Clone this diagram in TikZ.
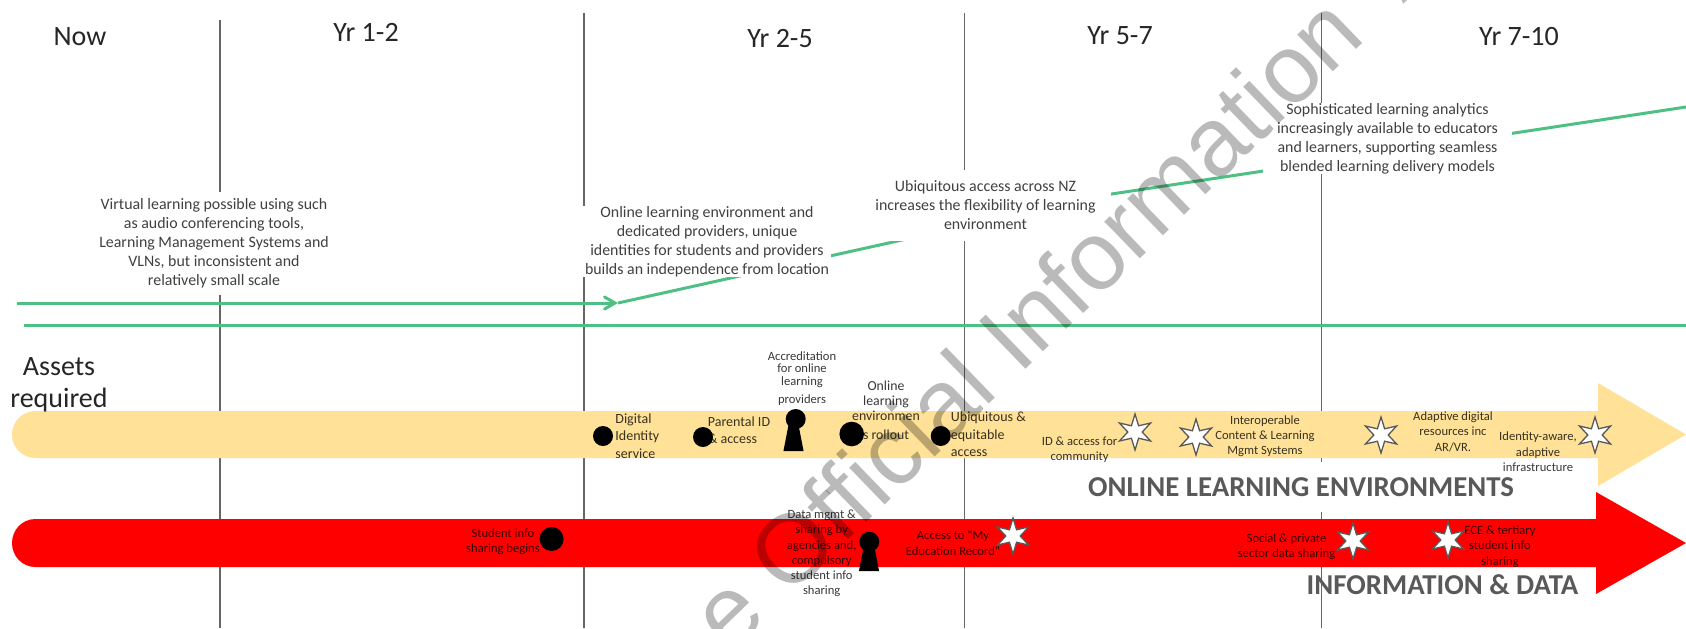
\documentclass[tikz,border=0pt]{standalone}
\usepackage{fontspec}
\setmainfont{Carlito}
\newfontfamily\stampfont{Liberation Sans}
\usetikzlibrary{shapes.geometric, arrows}
\definecolor{trackgreen}{HTML}{4FC084}
\definecolor{bandyellow}{HTML}{FFE197}
\definecolor{bandred}{HTML}{FF0000}
\tikzstyle{yearline} = [draw=black!60, line width=0.75pt]
\tikzstyle{track} = [draw=trackgreen, line width=1.5pt]
\tikzstyle{arrow} = [track,->,>=angle 60]
\tikzstyle{year} = [font=\fontsize{14}{16.5}\selectfont, align=center, inner sep=0pt, text=black!85]
\tikzstyle{note} = [font=\fontsize{7.95}{9.5}\selectfont, align=center, inner sep=0pt, fill=white, text=black!75]
\tikzstyle{tag} = [font=\fontsize{6.3}{7.6}\selectfont, align=center, inner sep=0pt, text opacity=0.78]
\tikzstyle{tagleft} = [tag, font=\fontsize{7}{8.7}\selectfont, align=left]
\tikzstyle{heading} = [font=\fontsize{14.4}{16}\selectfont\bfseries, inner sep=0pt, text=black!65]
\tikzstyle{eventdot} = [circle, fill=black, minimum size=10pt, inner sep=0pt]
\tikzstyle{keystem} = [trapezium, trapezium left angle=79, trapezium right angle=79, text width=5pt, text height=13pt, text depth=0pt, inner sep=0pt, fill=black]
\tikzstyle{futurestar} = [star, star points=6, star point ratio=2.5, minimum size=18pt, inner sep=0pt, fill=white, draw=black!65, line width=0.65pt]

\begin{document}
\begin{tikzpicture}[x=0.5pt, y=-0.5pt]
    \useasboundingbox (0,0) rectangle (1686,628);
    \clip (0,0) rectangle (1686,628);

    \draw [yearline] (220,20) -- (220,628);
    \draw [yearline] (584,13) -- (584,628);
    \draw [yearline] (964.5,13) -- (964.5,628);
    \draw [yearline] (1321.5,13) -- (1321.5,628);

    \coordinate (trackstart) at (17,303);
    \coordinate (tracktip) at (618,303);
    \coordinate (trackbend) at (1105,195);
    \coordinate (trackend) at (1686,107);
    \coordinate (baseleft) at (24,325);
    \coordinate (baseright) at (1686,325);
    \draw [arrow] (trackstart) -- (tracktip);
    \draw [track] (tracktip) -- (trackbend) -- (trackend);
    \draw [track] (baseleft) -- (baseright);

    \fill [bandyellow] (1598,411) -- (1598,383) -- (1686,434.5) -- (1598,486) -- (1598,458) -- (35.5,458) .. controls (22,458) and (12,447) .. (12,434.5) .. controls (12,422) and (22,411) .. (35.5,411) -- cycle;
    \fill [bandred] (1596,519) -- (1596,492) -- (1686,543) -- (1596,594) -- (1596,567) -- (35.5,567) .. controls (22,567) and (12,556) .. (12,543) .. controls (12,530) and (22,519) .. (35.5,519) -- cycle;

    \node [year] at (80,37) (now) {Now};
    \node [year] at (366,32) (yrone) {Yr 1-2};
    \node [year] at (780,39) (yrtwo) {Yr 2-5};
    \node [year] at (1120,36) (yrfive) {Yr 5-7};
    \node [year] at (1519,37) (yrseven) {Yr 7-10};
    \node [year, font=\fontsize{14}{16}\selectfont] at (59,385) (assets) {Assets\\required};

    \node [note, minimum width=116pt, minimum height=51.5pt] at (214,243.5) (noteone) {Virtual learning possible using such\\as audio conferencing tools,\\Learning Management Systems and\\VLNs, but inconsistent and\\relatively small scale};
    \node [note, minimum width=124pt, minimum height=35.5pt] at (707,241.5) (notetwo) {Online learning environment and\\dedicated providers, unique\\identities for students and providers\\builds an independence from location};
    \node [note, minimum width=125.5pt, minimum height=35.5pt] at (985.5,205.5) (notethree) {Ubiquitous access across NZ\\increases the flexibility of learning\\environment};
    \node [note, minimum width=124.5pt, minimum height=35pt] at (1387.5,138.5) (notefour) {Sophisticated learning analytics\\increasingly available to educators\\and learners, supporting seamless\\blended learning delivery models};

    \node [heading, fill=white, minimum height=25pt] at (1301,487) (onlinehead) {ONLINE LEARNING ENVIRONMENTS};
    \node [heading] at (1442.5,585) (infohead) {INFORMATION \& DATA};

    % yellow band
    \node [eventdot] at (603,436) (digitaldot) {};
    \node [tagleft, anchor=west] at (615,436) (digitaltag) {Digital\\Identity\\service};
    \node [eventdot] at (703,437) (parentaldot) {};
    \node [tagleft] at (739,430) (parentaltag) {Parental ID\\\& access};
    \node [eventdot] at (795.7,419) (accredhead) {};
    \node [keystem] at (793.5,438) (accredstem) {};
    \node [tag, font=\fontsize{6.3}{6.3}\selectfont] at (802,378.5) (accredtag) {Accreditation\\for online\\learning\\[2.7pt]providers};
    \node [tagleft, font=\fontsize{6.9}{7.5}\selectfont, align=center] at (886,410.5) (rollouttag) {Online\\learning\\environmen\\[2pt]s rollout};
    \node [eventdot, minimum size=12.3pt] at (851.7,434) (rolloutdot) {};
    \node [eventdot] at (940.7,436) (equitabledot) {};
    \node [tagleft, anchor=west] at (950.5,434.5) (equitabletag) {Ubiquitous \&\\equitable\\access};
    \node [futurestar] at (1135,432) (communitystar) {};
    \node [tag] at (1079.6,450) (communitytag) {ID \& access for\\community};
    \node [futurestar] at (1196,437) (contentstar) {};
    \node [tag] at (1265,436) (contenttag) {Interoperable\\Content \& Learning\\Mgmt Systems};
    \node [futurestar] at (1381,435) (adaptivestar) {};
    \node [tag] at (1453,431.7) (adaptivetag) {Adaptive digital\\resources inc\\AR/VR.};
    \node [futurestar] at (1595,435) (identitystar) {};
    \node [tag] at (1538,451.7) (identitytag) {Identity-aware,\\adaptive\\infrastructure};

    % red band
    \node [eventdot, minimum size=12pt] at (551.6,539) (studentdot) {};
    \node [tag] at (503,542) (studenttag) {Student info\\sharing begins};
    \node [eventdot] at (869.3,541.7) (datahead) {};
    \node [keystem] at (869,558) (datastem) {};
    \node [tag] at (821.7,553.5) (datatag) {Data mgmt \&\\sharing by\\agencies and,\\compulsory\\student info\\sharing};
    \node [futurestar] at (1013,536) (recordstar) {};
    \node [tag] at (953,543) (recordtag) {Access to “My\\Education Record”};
    \node [futurestar] at (1353,541) (socialstar) {};
    \node [tag] at (1286.5,546.5) (socialtag) {Social \& private\\sector data sharing};
    \node [futurestar] at (1448,540) (tertiarystar) {};
    \node [tag] at (1500,546.7) (tertiarytag) {ECE \& tertiary\\student info\\sharing};

    \node [rotate=44, inner sep=0pt, text=black, text opacity=0.27, font=\fontsize{48.4}{50}\stampfont] at (1066.3,281.9) (stamp) {e Official Information\hspace{25pt}A};
\end{tikzpicture}
\end{document}
